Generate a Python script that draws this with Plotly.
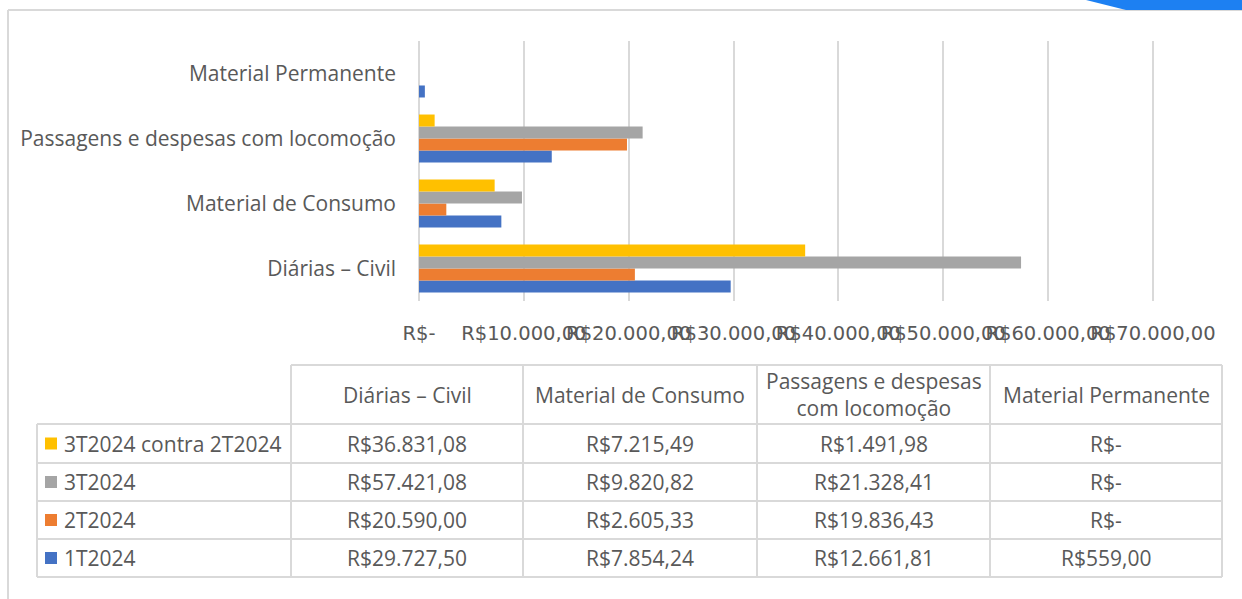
import plotly.graph_objects as go

# Expense categories (bottom to top on the chart, left to right in the table)
categorias = ["Diárias – Civil", "Material de Consumo",
              "Passagens e despesas com locomoção", "Material Permanente"]
cabecalhos = ["Diárias – Civil", "Material de Consumo",
              "Passagens e despesas<br>com locomoção", "Material Permanente"]

# Quarterly values (R$)
series = ["1T2024", "2T2024", "3T2024", "3T2024 contra 2T2024"]
v_1t2024 = [29727.50, 7854.24, 12661.81, 559.00]
v_2t2024 = [20590.00, 2605.33, 19836.43, 0.0]
v_3t2024 = [57421.08, 9820.82, 21328.41, 0.0]
v_3t_contra_2t = [36831.08, 7215.49, 1491.98, 0.0]
valores = [v_1t2024, v_2t2024, v_3t2024, v_3t_contra_2t]
cores = ["#4472C4", "#ED7D31", "#A5A5A5", "#FFC000"]

x_ticks = [0, 10000, 20000, 30000, 40000, 50000, 60000, 70000]


def brl(v, casas=2):
    """Brazilian accounting-style currency: R$12.345,67, zero as R$-"""
    if v == 0:
        return "R$-"
    s = f"{v:,.{casas}f}"
    s = s.replace(",", "_").replace(".", ",").replace("_", ".")
    return "R$" + s


TEXTO = "#595959"
GRADE = "#d9d9d9"
FONTE = "Open Sans"
TAM = 21

# page geometry (pixels)
W, H = 1242, 599
L, R, T, B = 419, 88, 41, 298
PW, PH = W - L - R, H - T - B
X_MAX = 70100  # a little headroom so the last gridline is drawn


def px(x):
    return (x - L) / PW


def py(y):
    return 1 - (y - T) / PH


fig = go.Figure()
for nome, vals, cor in zip(series, valores, cores):
    fig.add_trace(go.Bar(
        y=categorias, x=vals, name=nome, orientation="h",
        marker=dict(color=cor, line=dict(width=0)),
        hovertemplate="%{y}<br>" + nome + ": %{x:,.2f}<extra></extra>",
    ))

fig.update_layout(
    width=W, height=H,
    margin=dict(l=L, r=R, t=T, b=B),
    paper_bgcolor="white", plot_bgcolor="white",
    barmode="group", bargap=0.262, bargroupgap=0,
    showlegend=False,
    font=dict(family=FONTE, color=TEXTO),
)
fig.update_xaxes(
    range=[0, X_MAX], tickvals=x_ticks, ticktext=[brl(t) for t in x_ticks],
    tickangle=0, showgrid=True, gridcolor=GRADE, gridwidth=1.5,
    zeroline=True, zerolinecolor=GRADE, zerolinewidth=1.5,
    showline=False, ticks="", ticklabelstandoff=18,
    tickfont=dict(family="DejaVu Sans", size=19.5, color=TEXTO),
    fixedrange=True,
)
fig.update_yaxes(
    categoryorder="array", categoryarray=categorias,
    showgrid=False, zeroline=False, showline=False, ticks="",
    ticklabelstandoff=22,
    tickfont=dict(family=FONTE, size=TAM, color=TEXTO),
    fixedrange=True,
)

shapes = []
annotations = []

# outer frame and corner accent
linha = dict(color=GRADE, width=2)
shapes.append(dict(type="line", xref="paper", yref="paper",
                   x0=px(8), x1=px(8), y0=py(10), y1=py(599), line=linha))
shapes.append(dict(type="line", xref="paper", yref="paper",
                   x0=px(8), x1=px(1242), y0=py(10), y1=py(10), line=linha))
shapes.append(dict(
    type="path", xref="paper", yref="paper",
    path=(f"M {px(1086)},{py(0)} L {px(1126)},{py(10)} "
          f"L {px(1242)},{py(10)} L {px(1242)},{py(0)} Z"),
    fillcolor="#1d80f2", line=dict(width=0), layer="above"))

# data table grid
col_x = [291, 523, 757, 990, 1222]
row_y = [365, 424, 463, 501, 539, 577]
leg_x0 = 37
tab = dict(color=GRADE, width=2)
shapes.append(dict(type="line", xref="paper", yref="paper",
                   x0=px(col_x[0]), x1=px(col_x[-1]),
                   y0=py(row_y[0]), y1=py(row_y[0]), line=tab))
for yy in row_y[1:]:
    shapes.append(dict(type="line", xref="paper", yref="paper",
                       x0=px(leg_x0), x1=px(col_x[-1]),
                       y0=py(yy), y1=py(yy), line=tab))
for xx in col_x:
    shapes.append(dict(type="line", xref="paper", yref="paper",
                       x0=px(xx), x1=px(xx),
                       y0=py(row_y[0]), y1=py(row_y[-1]), line=tab))
shapes.append(dict(type="line", xref="paper", yref="paper",
                   x0=px(leg_x0), x1=px(leg_x0),
                   y0=py(row_y[1]), y1=py(row_y[-1]), line=tab))

fonte_tab = dict(family=FONTE, size=TAM, color=TEXTO)

# header row
for j, cab in enumerate(cabecalhos):
    cx = (col_x[j] + col_x[j + 1]) / 2
    cy = (row_y[0] + row_y[1]) / 2
    annotations.append(dict(xref="paper", yref="paper", x=px(cx), y=py(cy),
                            text=cab, showarrow=False, xanchor="center",
                            yanchor="middle", align="center", font=fonte_tab))

# body rows: top row is the last series
ordem = list(range(len(series)))[::-1]
for i, s in enumerate(ordem):
    y0, y1 = row_y[i + 1], row_y[i + 2]
    cy = (y0 + y1) / 2
    shapes.append(dict(type="rect", xref="paper", yref="paper",
                       x0=px(45), x1=px(57), y0=py(cy - 6), y1=py(cy + 6),
                       fillcolor=cores[s], line=dict(width=0)))
    annotations.append(dict(xref="paper", yref="paper", x=px(62), y=py(cy),
                            text=series[s], showarrow=False, xanchor="left",
                            yanchor="middle", font=fonte_tab))
    for j in range(len(categorias)):
        cx = (col_x[j] + col_x[j + 1]) / 2
        annotations.append(dict(xref="paper", yref="paper", x=px(cx), y=py(cy),
                                text=brl(valores[s][j]), showarrow=False,
                                xanchor="center", yanchor="middle",
                                font=fonte_tab))

fig.update_layout(shapes=shapes, annotations=annotations)

fig.write_html("out.html", config={"displayModeBar": False})
